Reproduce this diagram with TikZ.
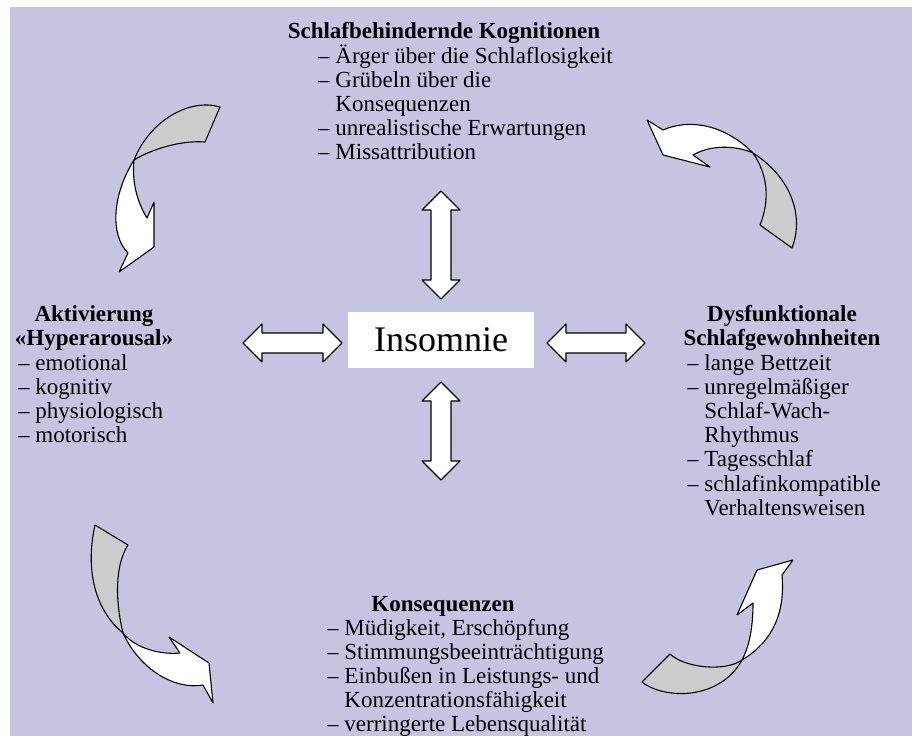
\documentclass[tikz,border=0pt]{standalone}
\usepackage{fontspec}
\setmainfont{Liberation Serif}
\usetikzlibrary{positioning}
\definecolor{bglila}{RGB}{199,196,226}
\definecolor{ribbongray}{RGB}{204,204,204}
\tikzset{
  txt/.style={inner sep=0pt, font=\fontsize{23}{24.2}\selectfont},
  head/.style={inner sep=0pt, font=\fontsize{23}{24.2}\selectfont\bfseries},
  ribbon/.style={draw=black, line width=1.1pt, line join=round},
  back/.style={ribbon, fill=ribbongray},
  front/.style={ribbon, fill=white},
  pics/dblarrow/.style={code={
    \draw[front] (-#1,0) -- (-#1+19,-19) -- (-#1+19,-10) -- (#1-19,-10) -- (#1-19,-19)
      -- (#1,0) -- (#1-19,19) -- (#1-19,10) -- (-#1+19,10) -- (-#1+19,19) -- cycle;}}
}
\begin{document}
\begin{tikzpicture}[x=1pt,y=-1pt]
\useasboundingbox (0,0) rectangle (912,736);
\fill[bglila] (10,7) rectangle (912,736);

% centre
\node[fill=white, minimum width=186pt, minimum height=56pt, inner sep=0pt,
  font=\fontsize{36}{40}\selectfont] (insomnie) at (441,340) {Insomnie};

% top block
\node[head, anchor=base] (kog) at (444,38) {Schlafbehindernde Kognitionen};
\node[txt, anchor=base west] (kogl) at (318,63) {\begin{tabular}[t]{@{}l@{}}
– Ärger über die Schlaflosigkeit\\
– Grübeln über die\\
\phantom{– }Konsequenzen\\
– unrealistische Erwartungen\\
– Missattribution
\end{tabular}};

% left block
\node[head, anchor=base] (akt) at (94,321) {\begin{tabular}[t]{@{}c@{}}
Aktivierung\\ «Hyperarousal»\end{tabular}};
\node[txt, anchor=base west] (aktl) at (18,370) {\begin{tabular}[t]{@{}l@{}}
– emotional\\
– kognitiv\\
– physiologisch\\
– motorisch
\end{tabular}};

% right block
\node[head, anchor=base] (dys) at (782,321) {\begin{tabular}[t]{@{}c@{}}
Dysfunktionale\\ Schlafgewohnheiten\end{tabular}};
\node[txt, anchor=base west] (dysl) at (687,370) {\begin{tabular}[t]{@{}l@{}}
– lange Bettzeit\\
– unregelmäßiger\\
\phantom{– }Schlaf-Wach-\\
\phantom{– }Rhythmus\\
– Tagesschlaf\\
– schlafinkompatible\\
\phantom{– }Verhaltensweisen
\end{tabular}};

% bottom block
\node[head, anchor=base] (kons) at (443,611) {Konsequenzen};
\node[txt, anchor=base west] (konsl) at (327,635) {\begin{tabular}[t]{@{}l@{}}
– Müdigkeit, Erschöpfung\\
– Stimmungsbeeinträchtigung\\
– Einbußen in Leistungs- und\\
\phantom{– }Konzentrationsfähigkeit\\
– verringerte Lebensqualität
\end{tabular}};

% double arrows
\pic[rotate=90] at (441,245) {dblarrow=54};
\pic[rotate=90] at (441,431) {dblarrow=49};
\pic at (292.5,343) {dblarrow=49.5};
\pic at (596,343) {dblarrow=49};

% top left
\draw[back] (220,107) .. controls (190,98) and (150,120) .. (134,160)
  .. controls (150,150) and (180,140) .. (205,142) -- cycle;
\draw[front] (134,160) .. controls (112,195) and (110,235) .. (128,253)
  -- (119,272) -- (154,247) -- (154,202) -- (147,218)
  .. controls (136,200) and (132,180) .. cycle;

% top right
\draw[back] (792,248) .. controls (803,220) and (795,180) .. (753,153)
  .. controls (768,175) and (770,200) .. (760,225) -- cycle;
\draw[front] (753,153) .. controls (725,125) and (690,118) .. (663,130)
  -- (647,120) -- (663,155) -- (710,167) -- (693,155)
  .. controls (710,145) and (735,145) .. cycle;

% bottom right
\draw[back] (642,682) .. controls (665,700) and (720,700) .. (742,660)
  .. controls (725,672) and (685,668) .. (670,654) -- cycle;
\draw[front] (742,660) .. controls (775,640) and (785,610) .. (782,575)
  -- (793,560) -- (757,570) -- (737,615) -- (753,603)
  .. controls (753,625) and (750,645) .. cycle;

% bottom left
\draw[back] (95,525) .. controls (85,570) and (95,610) .. (123,633)
  .. controls (115,600) and (115,565) .. (128,545) -- cycle;
\draw[front] (123,633) .. controls (140,670) and (175,690) .. (203,685)
  -- (213,703) -- (209,663) -- (169,637) -- (180,653)
  .. controls (160,655) and (135,648) .. cycle;
\end{tikzpicture}
\end{document}
